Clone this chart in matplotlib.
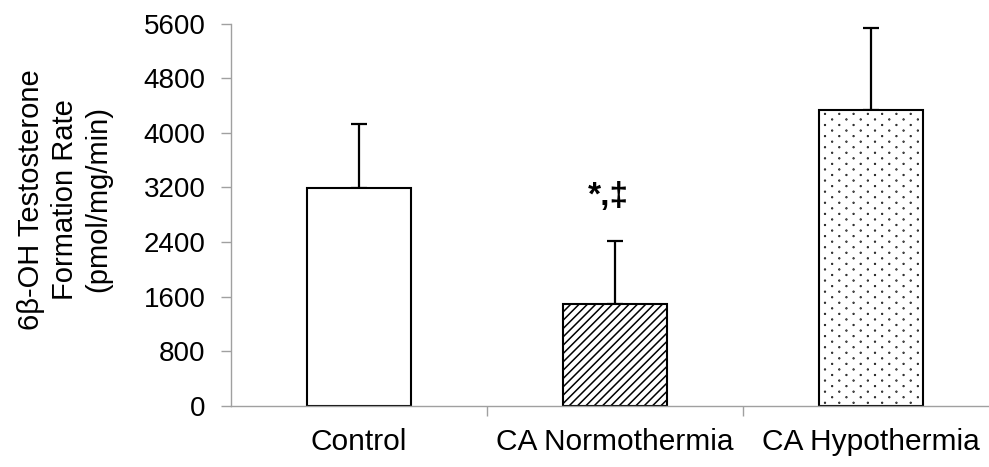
import matplotlib
matplotlib.use("Agg")
import numpy as np
import matplotlib.pyplot as plt
import matplotlib.hatch as mhatch
from matplotlib.path import Path

categories = ["Control", "CA Normothermia", "CA Hypothermia"]
means = [3187, 1487, 4335]
sds = [938, 928, 1202]
hatches = ["", "////", "."]
yticks = [0, 800, 1600, 2400, 3200, 4000, 4800, 5600]
annotation = "*,\u2021"


class SparseDots(mhatch.HatchPatternBase):
    """Staggered dot texture: dense rows, sparse dots within a row."""
    rows = 18
    cols = 14
    radius = 0.0035

    def __init__(self, hatch, density):
        self.active = "." in hatch
        circle = Path.unit_circle()
        self.shape_vertices = circle.vertices
        self.shape_codes = circle.codes
        n_shapes = self.rows * (self.cols // 2) if self.active else 0
        self.num_vertices = n_shapes * len(self.shape_vertices)

    def set_vertices_and_codes(self, vertices, codes):
        cursor = 0
        n = len(self.shape_vertices)
        for r in range(self.rows):
            y = (r + 0.5) / self.rows
            for k in range(self.cols // 2):
                x = (2 * k + (r % 2) + 0.5) / self.cols
                vertices[cursor:cursor + n] = self.shape_vertices * self.radius + (x, y)
                codes[cursor:cursor + n] = self.shape_codes
                cursor += n


mhatch._hatch_types = [SparseDots if t is mhatch.SmallFilledCircles else t
                       for t in mhatch._hatch_types]

plt.rcParams["font.family"] = ["Liberation Sans", "DejaVu Sans"]
plt.rcParams["hatch.linewidth"] = 1.1

fig = plt.figure(figsize=(9.89, 4.67), dpi=100)
ax = fig.add_axes([231 / 989, 1 - 405.7 / 467, 768 / 989, 382 / 467])

x = list(range(len(categories)))
ax.bar(x, means, width=0.406, color="white", edgecolor="black",
       linewidth=1.5, hatch=hatches, zorder=2)
ax.errorbar(x, means, yerr=[[0] * len(sds), sds], fmt="none",
            ecolor="black", elinewidth=1.6, capsize=5.6, capthick=1.6, zorder=1)

ax.text(1 - 0.027, means[1] + sds[1] + 650, annotation, ha="center",
        va="center", fontsize=24, fontweight="bold")

ax.set_xlim(-0.5, 2.5)
ax.set_ylim(0, 5600)
ax.set_yticks(yticks)
ax.set_yticklabels([str(v) for v in yticks], fontsize=20)
ax.set_xticks(x)
ax.set_xticklabels(categories, fontsize=21.5)
ax.set_xticks([0.5, 1.5], minor=True)
ax.tick_params(axis="x", which="major", length=0, pad=16)
ax.tick_params(axis="x", which="minor", length=7, color="#a0a0a0", width=1)
ax.tick_params(axis="y", length=7, color="#a0a0a0", width=1, pad=11.5)

for side in ["top", "right"]:
    ax.spines[side].set_visible(False)
for side in ["left", "bottom"]:
    ax.spines[side].set_color("#a0a0a0")
    ax.spines[side].set_linewidth(1)

ax.set_ylabel("6\u03b2-OH Testosterone\nFormation Rate\n(pmol/mg/min)",
              fontsize=21, linespacing=1.27, labelpad=22, y=0.54)

fig.savefig("out.png", dpi=100)
